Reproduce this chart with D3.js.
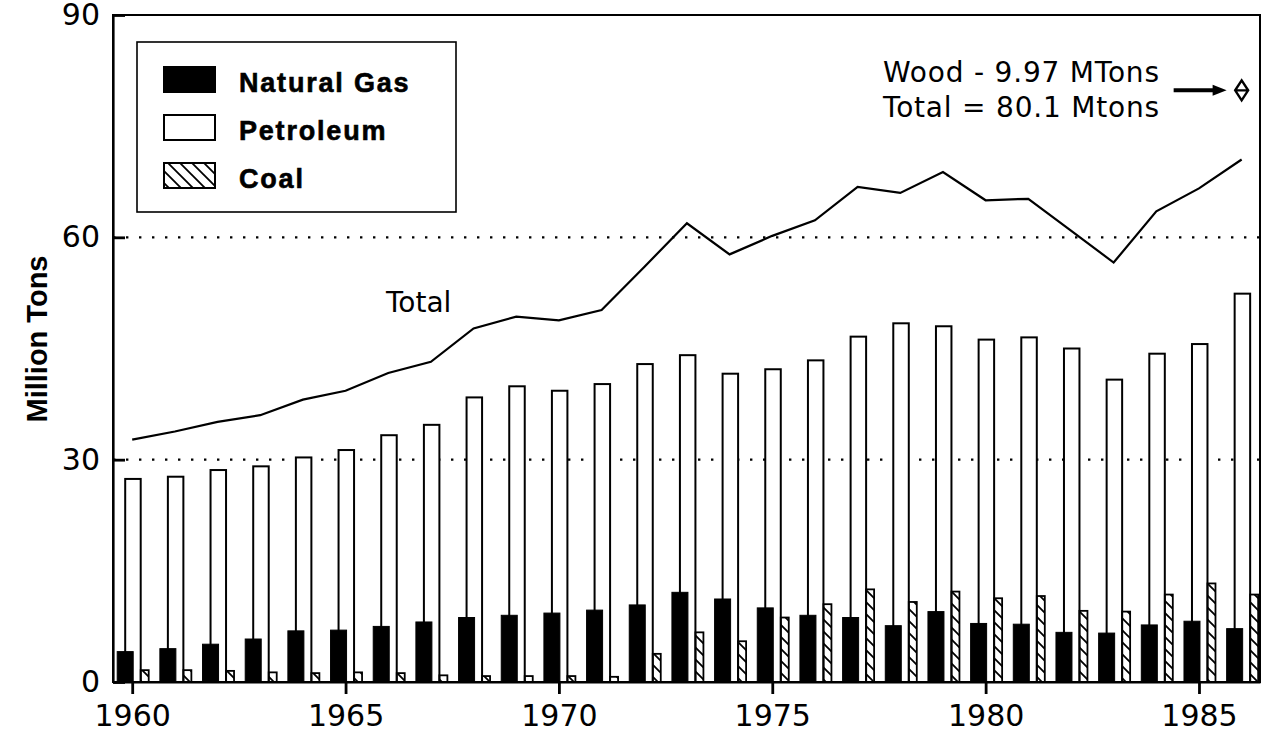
<!DOCTYPE html>
<html>
<head>
<meta charset="utf-8">
<script src="https://cdn.jsdelivr.net/npm/d3@7"></script>
<style>
  body { margin: 0; background: #fff; }
  svg { display: block; }
</style>
</head>
<body>
<div id="chart"></div>
<script>
// values (million tons)
var years = [1960, 1961, 1962, 1963, 1964, 1965, 1966, 1967, 1968, 1969, 1970, 1971, 1972, 1973,
             1974, 1975, 1976, 1977, 1978, 1979, 1980, 1981, 1982, 1983, 1984, 1985, 1986];
var naturalGas = [4.1, 4.5, 5.1, 5.8, 6.9, 7.0, 7.5, 8.1, 8.7, 9.0, 9.3, 9.7, 10.4, 12.1,
                  11.2, 10.0, 9.0, 8.7, 7.6, 9.5, 7.9, 7.8, 6.7, 6.6, 7.7, 8.2, 7.2];
var petroleum = [27.4, 27.7, 28.6, 29.1, 30.3, 31.3, 33.3, 34.7, 38.4, 39.9, 39.3, 40.2, 42.9, 44.1,
                 41.6, 42.2, 43.4, 46.6, 48.4, 48.0, 46.2, 46.5, 45.0, 40.8, 44.3, 45.6, 52.4];
var coal = [1.6, 1.6, 1.5, 1.3, 1.2, 1.3, 1.2, 0.9, 0.8, 0.8, 0.8, 0.7, 3.8, 6.7,
            5.5, 8.7, 10.5, 12.5, 10.8, 12.2, 11.3, 11.6, 9.6, 9.5, 11.8, 13.3, 11.8];
var total = [32.7, 33.8, 35.1, 36.0, 38.1, 39.3, 41.7, 43.2, 47.7, 49.3, 48.8, 50.2, 56.0, 61.9,
             57.7, 60.2, 62.3, 66.8, 66.0, 68.8, 65.0, 65.2, 60.9, 56.6, 63.5, 66.6, 70.5];
var woodYear = 1986;
var woodTotal = 80.1;

var yTicks = [0, 30, 60, 90];
var gridValues = [30, 60];
var xTicks = [1960, 1965, 1970, 1975, 1980, 1985];
var legendLabels = ["Natural Gas", "Petroleum", "Coal"];
var noteLines = ["Wood - 9.97 MTons", "Total = 80.1 Mtons"];

var width = 1269, height = 734;
var margin = {top: 15, right: 9, bottom: 52, left: 113};

var svg = d3.select("#chart").append("svg")
    .attr("width", width)
    .attr("height", height)
    .style("background", "#fff");

// hatch for coal
var defs = svg.append("defs");
defs.append("pattern")
    .attr("id", "hatch")
    .attr("patternUnits", "userSpaceOnUse")
    .attr("width", 12)
    .attr("height", 12)
  .append("path")
    .attr("d", "M-3,-3 L15,15 M-3,9 L3,15 M9,-3 L15,3")
    .attr("stroke", "#000")
    .attr("stroke-width", 1.8);

var x = d3.scaleLinear().domain([1959.55, 1986.43]).range([margin.left, width - margin.right]);
var y = d3.scaleLinear().domain([0, 90]).range([height - margin.bottom, margin.top]);

// frame
svg.append("rect")
    .attr("x", margin.left)
    .attr("y", margin.top)
    .attr("width", width - margin.right - margin.left)
    .attr("height", y(0) - margin.top)
    .attr("fill", "none")
    .attr("stroke", "#000")
    .attr("stroke-width", 2);

// dotted grid
svg.selectAll(".grid")
    .data(gridValues)
  .enter().append("line")
    .attr("x1", margin.left)
    .attr("x2", width - margin.right)
    .attr("y1", function(d) { return y(d); })
    .attr("y2", function(d) { return y(d); })
    .attr("stroke", "#000")
    .attr("stroke-width", 2.4)
    .attr("stroke-dasharray", "2.4,10.6");

// petroleum bars (behind)
svg.selectAll(".pet")
    .data(years)
  .enter().append("rect")
    .attr("x", function(d) { return x(d) - 7; })
    .attr("width", 15.5)
    .attr("y", function(d, i) { return y(petroleum[i]); })
    .attr("height", function(d, i) { return y(0) - y(petroleum[i]); })
    .attr("fill", "#fff")
    .attr("stroke", "#000")
    .attr("stroke-width", 2);

// natural gas bars
svg.selectAll(".gas")
    .data(years)
  .enter().append("rect")
    .attr("x", function(d) { return x(d) - 15; })
    .attr("width", 16)
    .attr("y", function(d, i) { return y(naturalGas[i]); })
    .attr("height", function(d, i) { return y(0) - y(naturalGas[i]); })
    .attr("fill", "#000")
    .attr("stroke", "#000")
    .attr("stroke-width", 1);

// coal bars
svg.selectAll(".coal")
    .data(years)
  .enter().append("rect")
    .attr("x", function(d) { return x(d) + 8.5; })
    .attr("width", 8)
    .attr("y", function(d, i) { return y(coal[i]); })
    .attr("height", function(d, i) { return y(0) - y(coal[i]); })
    .attr("fill", "url(#hatch)")
    .attr("stroke", "#000")
    .attr("stroke-width", 1.8);

// total line
var line = d3.line()
    .x(function(d) { return x(d); })
    .y(function(d, i) { return y(total[i]); });

svg.append("path")
    .datum(years)
    .attr("d", line)
    .attr("fill", "none")
    .attr("stroke", "#000")
    .attr("stroke-width", 2.2);

svg.append("text")
    .attr("x", 386)
    .attr("y", 312)
    .style("font-family", "DejaVu Sans")
    .style("font-size", "28px")
    .text("Total");

// axes
var yAxis = svg.append("g")
    .attr("transform", "translate(" + margin.left + ",0)")
    .call(d3.axisLeft(y).tickValues(yTicks).tickSize(-12).tickSizeOuter(0).tickPadding(13));

var xAxis = svg.append("g")
    .attr("transform", "translate(0," + y(0) + ")")
    .call(d3.axisBottom(x).tickValues(xTicks).tickFormat(d3.format("d"))
      .tickSize(12).tickSizeOuter(0).tickPadding(11));

[yAxis, xAxis].forEach(function(g) {
  g.select(".domain").attr("stroke-width", 2.2);
  g.selectAll(".tick line").attr("stroke-width", 2.8);
  g.selectAll(".tick text")
    .attr("fill", "#000")
    .style("font-family", "DejaVu Sans")
    .style("font-size", "30px");
});

svg.append("text")
    .attr("transform", "translate(47,339) rotate(-90)")
    .attr("text-anchor", "middle")
    .style("font-family", "Liberation Sans, Arial, sans-serif")
    .style("font-weight", "bold")
    .style("font-size", "29px")
    .text("Million Tons");

// legend
var legend = svg.append("g");
legend.append("rect")
    .attr("x", 137)
    .attr("y", 42)
    .attr("width", 319)
    .attr("height", 170)
    .attr("fill", "#fff")
    .attr("stroke", "#000")
    .attr("stroke-width", 1.6);

var swatchFill = ["#000", "#fff", "url(#hatch)"];
var item = legend.selectAll(".item")
    .data(legendLabels)
  .enter().append("g")
    .attr("transform", function(d, i) { return "translate(0," + [67, 115, 163][i] + ")"; });

item.append("rect")
    .attr("x", 164)
    .attr("width", 51)
    .attr("height", 25)
    .attr("fill", function(d, i) { return swatchFill[i]; })
    .attr("stroke", "#000")
    .attr("stroke-width", 2);

item.append("text")
    .attr("x", 239)
    .attr("y", 25)
    .style("font-family", "Liberation Sans, Arial, sans-serif")
    .style("font-weight", "bold")
    .style("font-size", "27px")
    .style("letter-spacing", "1.8px")
    .style("stroke", "#000")
    .style("stroke-width", "0.6px")
    .text(function(d) { return d; });

// wood note, arrow and marker
svg.selectAll(".note")
    .data(noteLines)
  .enter().append("text")
    .attr("x", 883)
    .attr("y", function(d, i) { return 82 + i * 35; })
    .style("font-family", "DejaVu Sans")
    .style("font-size", "28px")
    .style("letter-spacing", "0.8px")
    .text(function(d) { return d; });

var wx = x(woodYear), wy = y(woodTotal) + 2;
svg.append("line")
    .attr("x1", wx - 68)
    .attr("x2", wx - 26)
    .attr("y1", wy)
    .attr("y2", wy)
    .attr("stroke", "#000")
    .attr("stroke-width", 4);
svg.append("path")
    .attr("d", "M" + (wx - 29) + "," + (wy - 5.5) + " L" + (wx - 15) + "," + wy + " L" + (wx - 29) + "," + (wy + 5.5) + " Z")
    .attr("fill", "#000");
svg.append("path")
    .attr("transform", "translate(" + wx + "," + wy + ")")
    .attr("d", "M0,-10 L6.5,0 L0,10 L-6.5,0 Z M-6.5,0 L6.5,0")
    .attr("fill", "#fff")
    .attr("stroke", "#000")
    .attr("stroke-width", 2.4);
</script>
</body>
</html>
